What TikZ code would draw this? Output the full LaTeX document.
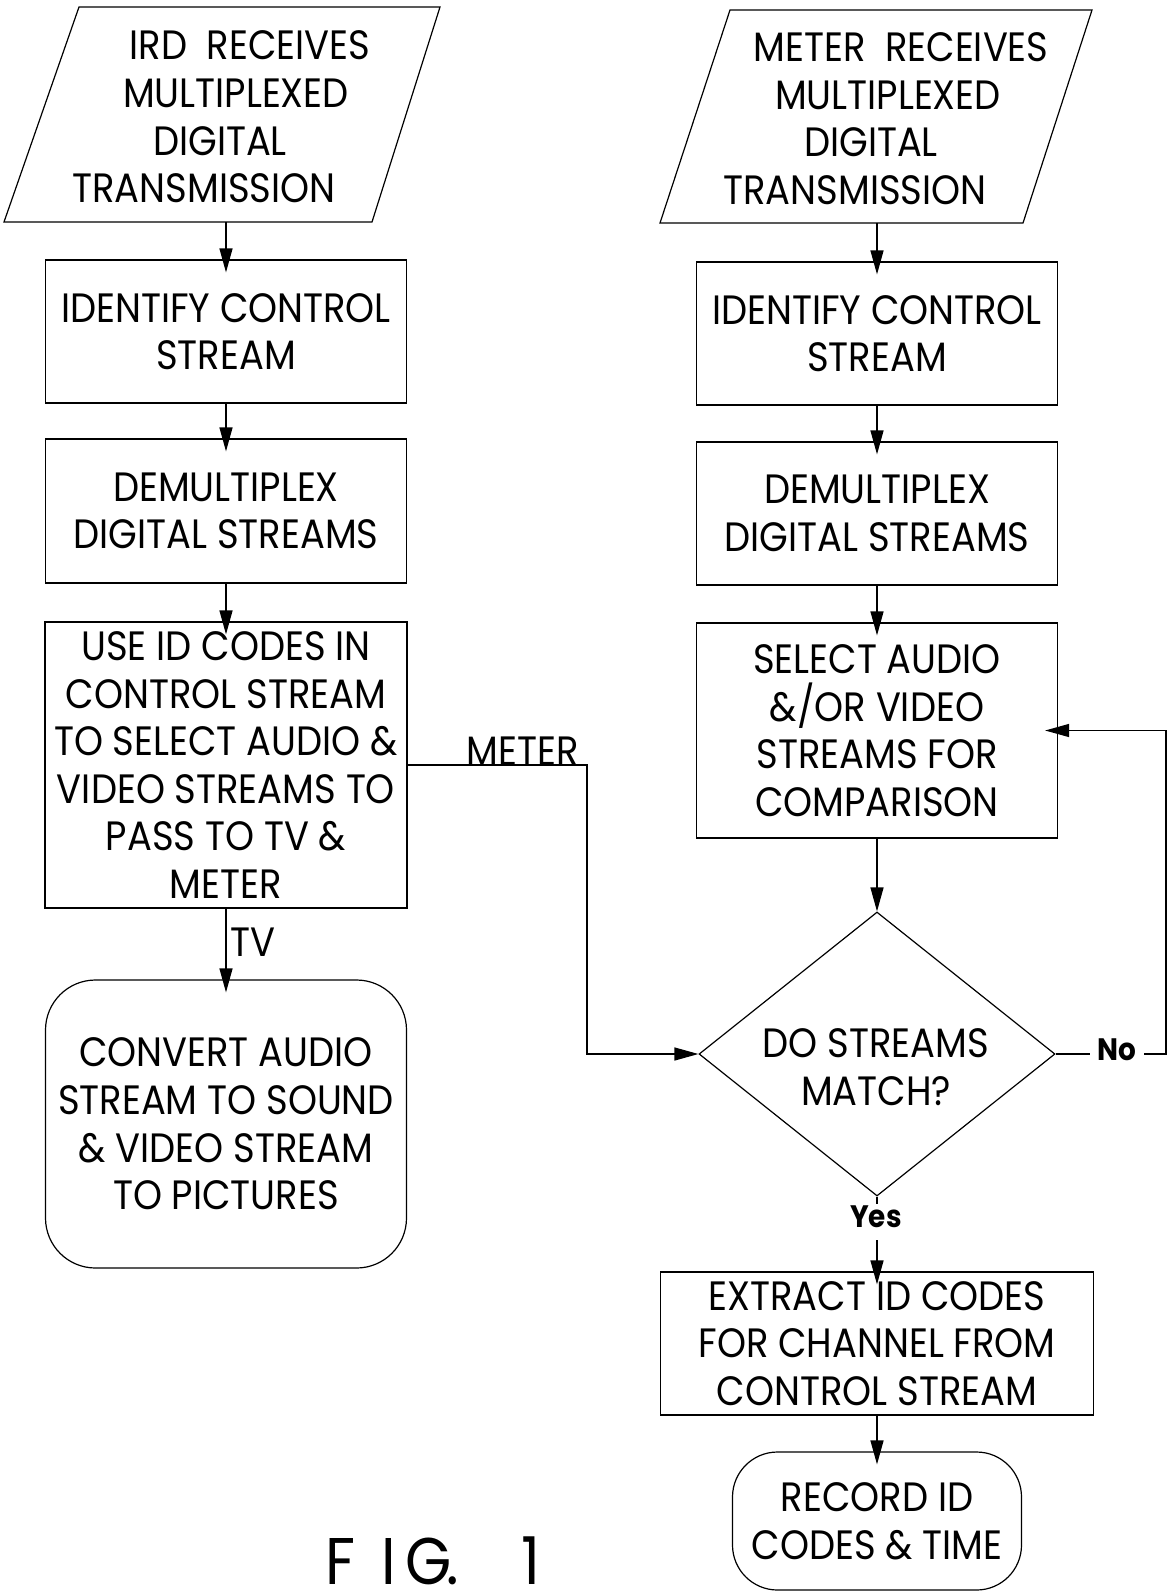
\documentclass[tikz,border=0pt]{standalone}
\usepackage{fontspec}
\setmainfont{Poppins}[FakeStretch=0.90]
\usetikzlibrary{arrows.meta,shapes.geometric,calc}
\newcommand\lead[2]{\mbox{}\hspace*{#1pt}#2}
\newcommand\trail[2]{#2\hspace*{#1pt}\mbox{}}
\begin{document}
\begin{tikzpicture}[x=1pt,y=-1pt,
  txt/.style={font=\fontsize{41}{47.6}\selectfont, inner sep=0pt, align=center},
  box/.style={txt, draw, line width=1.2pt},
  rbox/.style={box, rounded corners=50pt},
  arr/.style={line width=1.3pt, -{Triangle[length=24pt,width=13pt]}, shorten >=-13pt},
  arrv/.style={line width=1.3pt, -{Triangle[length=24pt,width=13pt]}},
  outl/.style={line width=1.2pt},
  yn/.style={font=\fontsize{31}{36}\selectfont\bfseries, inner xsep=8pt, inner ysep=0pt, fill=white},
]
\useasboundingbox (0,0) rectangle (1169,1592);

% left column
\draw[outl] (79,7) -- (440,7) -- (372,222) -- (4,222) -- cycle;
\node[txt, minimum height=215pt] (ird) at (226,117)
  {\lead{48}{IRD\ \ RECEIVES}\\ \lead{20}{MULTIPLEXED}\\ \trail{12}{DIGITAL}\\ \trail{44}{TRANSMISSION}};
\node[box, minimum width=361pt, minimum height=143pt] (l1) at (226,331.5) {IDENTIFY CONTROL\\STREAM};
\node[box, minimum width=361pt, minimum height=144pt] (l2) at (226,511) {DEMULTIPLEX\\DIGITAL STREAMS};
\node[box, minimum width=362pt, minimum height=286pt] (l3) at (226,765)
  {USE ID CODES IN\\CONTROL STREAM\\TO SELECT AUDIO \&\\VIDEO STREAMS TO\\PASS TO TV \&\\METER};
\node[rbox, minimum width=361pt, minimum height=288pt] (l4) at (226,1124)
  {CONVERT AUDIO\\STREAM TO SOUND\\\& VIDEO STREAM\\TO PICTURES};

% right column
\draw[outl] (730,10) -- (1092,10) -- (1023,223) -- (660,223) -- cycle;
\node[txt, minimum height=213pt] (mtr) at (877,118.5)
  {\lead{48}{METER\ \ RECEIVES}\\ \lead{22}{MULTIPLEXED}\\ \trail{12}{DIGITAL}\\ \trail{44}{TRANSMISSION}};
\node[box, minimum width=361pt, minimum height=143pt] (r1) at (877,333.5) {IDENTIFY CONTROL\\STREAM};
\node[box, minimum width=361pt, minimum height=143pt] (r2) at (877,513.5) {DEMULTIPLEX\\DIGITAL STREAMS};
\node[box, minimum width=361pt, minimum height=215pt] (r3) at (877,730.5)
  {SELECT AUDIO\\\&/OR VIDEO\\STREAMS FOR\\COMPARISON};
\node[diamond, draw, line width=1.2pt, inner sep=0pt, minimum width=356pt, minimum height=284pt] (dec) at (877,1054) {};
\node[txt] (dectxt) at (876,1067) {DO STREAMS\\MATCH?};
\node[box, minimum width=433pt, minimum height=143pt] (ext) at (877,1343.5)
  {EXTRACT ID CODES\\FOR CHANNEL FROM\\CONTROL STREAM};
\node[box, rounded corners=45pt, minimum width=289pt, minimum height=138pt] (rec) at (877,1521)
  {RECORD ID\\CODES \& TIME};

% connectors
\draw[arr] (226,222) -- (l1.north);
\draw[arr] (l1.south) -- (l2.north);
\draw[arr] (l2.south) -- (l3.north);
\draw[arr] (l3.south) -- (l4.north);
\node[txt, anchor=base west] (tv) at (230,956) {TV};

\coordinate (mbend) at (587,765);
\draw[arrv] (l3.east) -- (mbend) |- (dec.west);
\node[txt, anchor=base] (meter) at (523,765) {METER};

\draw[arr] (877,223) -- (r1.north);
\draw[arr] (r1.south) -- (r2.north);
\draw[arr] (r2.south) -- (r3.north);
\draw[arrv] (r3.south) -- (dec.north);

\coordinate (nob) at (1166,1054);
\draw[arr] (dec.east) -- (nob) |- (r3.east);
\node[yn] (no) at (1117,1050) {No};

\draw[arr] (dec.south) -- (ext.north);
\node[yn, text height=23pt, text depth=13pt] (yes) at (876,1222) {Yes};

\draw[arr] (ext.south) -- (rec.north);

\node[anchor=base west, inner sep=0pt, font=\fontsize{66}{70}\selectfont] (fig) at (325,1584)
  {\makebox[56pt][l]{F}\makebox[24pt][l]{I}\makebox[41pt][l]{G}\makebox[75pt][l]{.}1};
\end{tikzpicture}
\end{document}
